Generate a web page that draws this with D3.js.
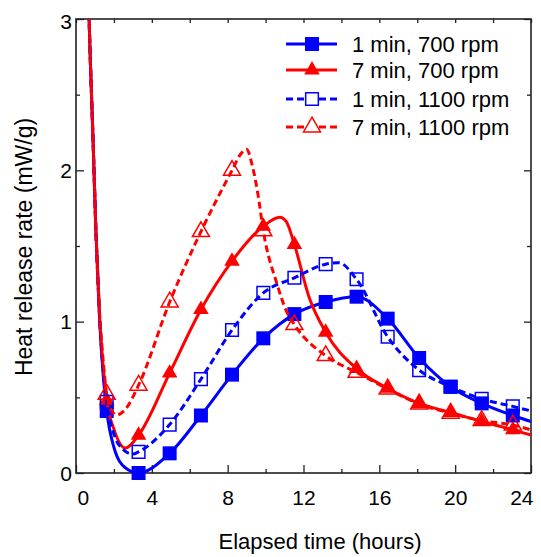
<!DOCTYPE html>
<html>
<head>
<meta charset="utf-8">
<script src="https://cdn.jsdelivr.net/npm/d3@7"></script>
<style>
  body { margin: 0; background: #fff; }
  text { font-family: "Liberation Sans", Arial, sans-serif; fill: #000; }
</style>
</head>
<body>
<div class="chart"></div>
<script>
// legend order
const seriesNames = ['1 min, 700 rpm', '7 min, 700 rpm', '1 min, 1100 rpm', '7 min, 1100 rpm'];

// times of the plotted markers (hours)
const markerTimes = [1.62, 3.3, 4.94, 6.59, 8.23, 9.88, 11.52, 13.17, 14.8, 16.44, 18.1, 19.76, 21.4, 23.04];

// marker values (mW/g)
const markers1 = [0.41, 0.00, 0.13, 0.38, 0.65, 0.89, 1.05, 1.13, 1.165, 1.02, 0.76, 0.57, 0.46, 0.38];
const markers2 = [0.48, 0.25, 0.66, 1.08, 1.40, 1.63, 1.51, 0.93, 0.69, 0.56, 0.46, 0.40, 0.34, 0.285];
const markers3 = [0.47, 0.14, 0.32, 0.62, 0.945, 1.19, 1.29, 1.38, 1.28, 0.90, 0.68, 0.57, 0.49, 0.44];
const markers4 = [0.52, 0.58, 1.13, 1.595, 2.0, 1.6, 0.98, 0.775, 0.665, 0.555, 0.456, 0.395, 0.346, 0.317];

// extra readings of the continuous curves between markers [time, value]
const curve1 = [[0.6, 3.4], [0.75, 2.75], [0.9, 2.2], [1.05, 1.6], [1.25, 1.0], [1.45, 0.62],
                [2.0, 0.17], [2.6, 0.035], [24, 0.34]];
const curve2 = [[0.6, 3.4], [0.75, 2.75], [0.9, 2.2], [1.05, 1.6], [1.25, 1.02], [1.45, 0.68],
                [2.0, 0.29], [2.6, 0.165], [10.75, 1.69], [11.1, 1.66], [12.3, 1.16], [24, 0.25]];
const curve3 = [[0.6, 3.4], [0.75, 2.75], [0.9, 2.2], [1.05, 1.6], [1.25, 1.02], [1.45, 0.66],
                [2.05, 0.24], [2.5, 0.155], [3.0, 0.125], [13.85, 1.39], [24, 0.41]];
const curve4 = [[0.6, 3.4], [0.75, 2.75], [0.9, 2.2], [1.05, 1.6], [1.25, 1.05], [1.45, 0.72],
                [1.9, 0.41], [2.15, 0.383], [2.6, 0.42], [8.7, 2.11], [9.0, 2.14], [9.3, 2.03],
                [9.6, 1.84], [10.6, 1.25], [11.1, 1.07], [24, 0.285]];

const xTicks = [0, 4, 8, 12, 16, 20, 24];
const xMinor = [2, 6, 10, 14, 18, 22];
const yTicks = [0, 1, 2, 3];
const yMinor = [0.5, 1.5, 2.5];

const width = 541;
const height = 557;
const margin = {top: 19, left: 76, right: 10, bottom: 84};

const svg = d3.select('.chart').append('svg')
  .attr('width', width)
  .attr('height', height);

const x = d3.scaleLinear().domain([0, 24]).range([margin.left, width - margin.right]);
const y = d3.scaleLinear().domain([0, 3]).range([height - margin.bottom, margin.top]);

svg.append('clipPath').attr('id', 'plot-clip')
  .append('rect')
  .attr('x', x(0)).attr('y', y(3))
  .attr('width', x(24) - x(0)).attr('height', y(0) - y(3));

// axes: ticks point inward on all four sides
function styleAxis(g) {
  g.select('.domain').remove();
  g.selectAll('.tick line').attr('stroke', '#222').attr('stroke-width', 1.3);
  g.selectAll('.tick text').style('font-size', '21px').attr('fill', '#000');
}

svg.append('g').attr('transform', `translate(0,${y(0)})`)
  .call(d3.axisBottom(x).tickValues(xMinor).tickSizeInner(-4).tickSizeOuter(0).tickFormat(''))
  .call(styleAxis);
const xAxis = svg.append('g').attr('transform', `translate(0,${y(0)})`)
  .call(d3.axisBottom(x).tickValues(xTicks).tickSizeInner(-8).tickSizeOuter(0).tickPadding(17)
    .tickFormat(d3.format('d')))
  .call(styleAxis);
xAxis.selectAll('.tick text')
  .attr('text-anchor', d => d === 0 ? 'start' : d === 24 ? 'end' : 'middle')
  .attr('dx', d => d === 0 ? 1 : d === 24 ? 2 : 0);

svg.append('g').attr('transform', `translate(0,${y(3)})`)
  .call(d3.axisTop(x).tickValues(xMinor.concat(xTicks)).tickSizeInner(-4).tickSizeOuter(0).tickFormat(''))
  .call(styleAxis);

svg.append('g').attr('transform', `translate(${x(0)},0)`)
  .call(d3.axisLeft(y).tickValues(yMinor).tickSizeInner(-4).tickSizeOuter(0).tickFormat(''))
  .call(styleAxis);
const yAxis = svg.append('g').attr('transform', `translate(${x(0)},0)`)
  .call(d3.axisLeft(y).tickValues(yTicks).tickSizeInner(-8).tickSizeOuter(0).tickPadding(4)
    .tickFormat(d3.format('d')))
  .call(styleAxis);
yAxis.selectAll('.tick text').attr('dy', d => d === 3 ? '0.45em' : '0.34em');

svg.append('g').attr('transform', `translate(${x(24)},0)`)
  .call(d3.axisRight(y).tickValues(yMinor).tickSizeInner(-4).tickSizeOuter(0).tickFormat(''))
  .call(styleAxis);
svg.append('g').attr('transform', `translate(${x(24)},0)`)
  .call(d3.axisRight(y).tickValues(yTicks).tickSizeInner(-7).tickSizeOuter(0).tickFormat(''))
  .call(styleAxis);

svg.append('rect')
  .attr('x', x(0)).attr('y', y(3))
  .attr('width', x(24) - x(0)).attr('height', y(0) - y(3))
  .attr('fill', 'none').attr('stroke', '#222').attr('stroke-width', 1.6);

// axis titles
svg.append('text')
  .attr('x', 320).attr('y', 549)
  .attr('text-anchor', 'middle')
  .style('font-size', '22px')
  .text('Elapsed time (hours)');

svg.append('text')
  .attr('transform', 'translate(32,247) rotate(-90)')
  .attr('text-anchor', 'middle')
  .style('font-size', '23px')
  .text('Heat release rate (mW/g)');

// series
const series = [
  {name: seriesNames[0], values: markers1, extra: curve1, color: '#0000ff', dash: null, shape: 'square', filled: true},
  {name: seriesNames[1], values: markers2, extra: curve2, color: '#ff0000', dash: null, shape: 'triangle', filled: true},
  {name: seriesNames[2], values: markers3, extra: curve3, color: '#0000ff', dash: '7,4', shape: 'square', filled: false},
  {name: seriesNames[3], values: markers4, extra: curve4, color: '#ff0000', dash: '7,4', shape: 'triangle', filled: false}
];

const line = d3.line()
  .x(d => x(d[0]))
  .y(d => y(d[1]))
  .curve(d3.curveMonotoneX);

function symbolPath(s) {
  if (s.shape === 'square') {
    return d3.symbol().type(d3.symbolSquare).size(s.filled ? 196 : 160)();
  }
  return d3.symbol().type(d3.symbolTriangle).size(s.filled ? 105 : 125)();
}

series.forEach(s => {
  const pts = s.extra.concat(markerTimes.map((t, i) => [t, s.values[i]]))
    .sort((a, b) => a[0] - b[0]);

  svg.append('path')
    .datum(pts)
    .attr('clip-path', 'url(#plot-clip)')
    .attr('fill', 'none')
    .attr('stroke', s.color)
    .attr('stroke-width', 3)
    .attr('stroke-dasharray', s.dash)
    .attr('d', line);

  svg.append('g').selectAll('path')
    .data(markerTimes.map((t, i) => [t, s.values[i]]))
    .enter()
    .append('path')
    .attr('transform', d => `translate(${x(d[0])},${y(d[1])})`)
    .attr('d', symbolPath(s))
    .attr('fill', s.filled ? s.color : 'none')
    .attr('stroke', s.color)
    .attr('stroke-width', s.filled ? 0 : 1.5);
});

// legend
const legendY = [44, 70, 99, 127];
const legend = svg.append('g');
series.forEach((s, i) => {
  const row = legend.append('g').attr('transform', `translate(0,${legendY[i]})`);
  row.append('line')
    .attr('x1', 286).attr('x2', 337)
    .attr('stroke', s.color).attr('stroke-width', 3)
    .attr('stroke-dasharray', s.dash);
  row.append('path')
    .attr('transform', 'translate(312,0)')
    .attr('d', symbolPath(s))
    .attr('fill', s.filled ? s.color : '#fff')
    .attr('stroke', s.color)
    .attr('stroke-width', s.filled ? 0 : 1.5);
  row.append('text')
    .attr('x', 352).attr('y', 0).attr('dy', '0.35em')
    .style('font-size', '22px')
    .text(s.name);
});
</script>
</body>
</html>
